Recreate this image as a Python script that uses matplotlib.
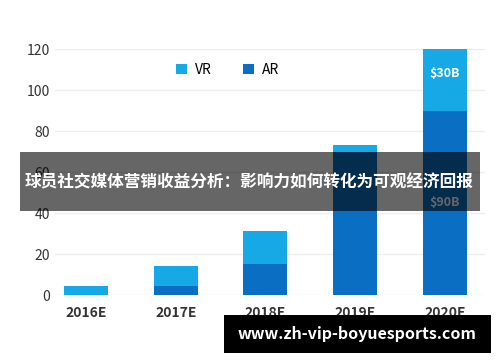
import matplotlib.pyplot as plt
import numpy as np

plt.rcParams['font.family'] = ['Noto Sans CJK SC', 'DejaVu Sans']

# data
years = ['2016E', '2017E', '2018E', '2019E', '2020E']
ar = [0, 4.5, 15, 70, 90]
vr = [4.5, 9.5, 16, 3, 30]
yticks = [0, 20, 40, 60, 80, 100, 120]

vr_color = '#17a9e6'
ar_color = '#0a6fc2'

fig = plt.figure(figsize=(5, 3.62), dpi=100)
ax = fig.add_axes([0.11, 0.185, 0.86, 0.6796])

x = np.arange(len(years))
ax.bar(x, ar, width=0.49, color=ar_color, label='AR', zorder=2)
ax.bar(x, vr, width=0.49, bottom=ar, color=vr_color, label='VR', zorder=2)

# value labels on the 2020 bar
ax.text(x[4], ar[4] + vr[4] * 0.6, '$%dB' % vr[4], color='white',
        ha='center', va='center', fontsize=9, fontweight='bold', zorder=3)
ax.text(x[4], ar[4] * 0.5, '$%dB' % ar[4], color='white',
        ha='center', va='center', fontsize=9, fontweight='bold', zorder=3)

ax.set_ylim(0, 120)
ax.set_xlim(-0.345, 4.446)
ax.set_yticks(yticks)
ax.set_xticks(x)
ax.set_xticklabels(years, fontweight='bold')
ax.tick_params(length=0, labelsize=10, colors='#333333')
ax.tick_params(axis='x', pad=8)
ax.grid(axis='y', color='#eeeeee', linewidth=1, zorder=0)
for s in ax.spines.values():
    s.set_visible(False)

h, l = ax.get_legend_handles_labels()
fig.legend(h[::-1], l[::-1], loc='center', bbox_to_anchor=(0.455, 0.807), ncol=2,
           frameon=False, fontsize=10, handlelength=0.8, handleheight=0.8,
           columnspacing=2.2, handletextpad=0.6)

# title banner over the chart
fig.patches.append(plt.Rectangle((0.04, 1 - 211 / 362), 0.92, 59 / 362,
                                 transform=fig.transFigure, facecolor='black',
                                 linewidth=0, alpha=0.6, zorder=5))
fig.text(0.498, 1 - 182 / 362, '球员社交媒体营销收益分析：影响力如何转化为可观经济回报',
         ha='center', va='center', color='white', fontsize=12.0,
         fontweight='bold', zorder=6)

# watermark box
fig.patches.append(plt.Rectangle((224 / 500, 1 - 353 / 362), 267 / 500, 38 / 362,
                                 transform=fig.transFigure, facecolor='black',
                                 linewidth=0, zorder=5))
fig.text(357 / 500, 1 - 334 / 362, 'www.zh-vip-boyuesports.com', ha='center',
         va='center', color='white', fontsize=11.5, fontweight='bold', zorder=6)

fig.savefig('out.png', dpi=100)
